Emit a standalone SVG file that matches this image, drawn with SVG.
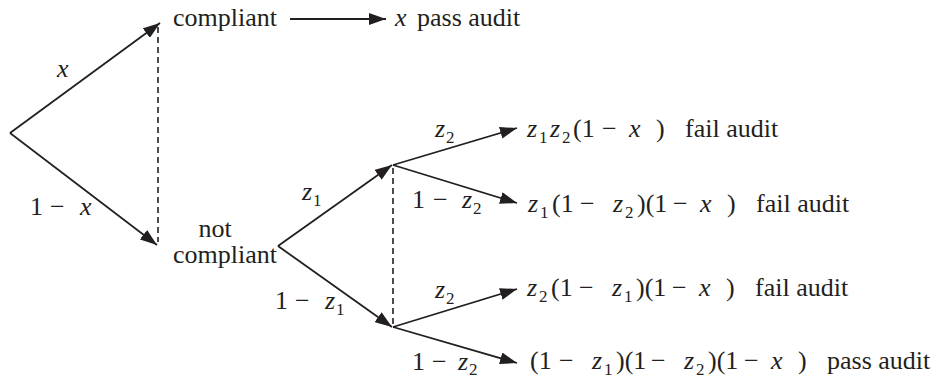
<svg xmlns="http://www.w3.org/2000/svg" width="939" height="378" viewBox="0 0 939 378">
<style>
  text { font-family: "Liberation Serif", "Times New Roman", serif; font-size: 26px; fill: #231f20; }
  .m { font-style: italic; }
  .u { font-style: normal; }
  .s { font-style: normal; font-size: 17px; }
  .edge { stroke: #231f20; stroke-width: 1.8; fill: none; marker-end: url(#ah); }
  .dash { stroke: #231f20; stroke-width: 1.6; fill: none; stroke-dasharray: 6 4; }
</style>
<defs>
  <marker id="ah" markerUnits="userSpaceOnUse" markerWidth="18" markerHeight="12" refX="17" refY="6" orient="auto">
    <path d="M0,0 L17,6 L0,12 Z" fill="#231f20"/>
  </marker>
</defs>
<rect width="939" height="378" fill="#ffffff"/>

<g id="connectors">
  <line class="edge" x1="10" y1="133" x2="160" y2="23"/>
  <line class="edge" x1="10" y1="133" x2="157" y2="245"/>
  <line class="dash" x1="158" y1="27" x2="158" y2="242"/>
  <line class="edge" x1="290" y1="19" x2="386" y2="19"/>
  <line class="edge" x1="278" y1="246" x2="392" y2="165"/>
  <line class="edge" x1="278" y1="246" x2="392" y2="327"/>
  <line class="edge" x1="393" y1="165" x2="517" y2="128"/>
  <line class="edge" x1="393" y1="165" x2="517" y2="203"/>
  <line class="edge" x1="393" y1="327" x2="517" y2="289"/>
  <line class="edge" x1="393" y1="327" x2="517" y2="363"/>
  <line class="dash" x1="393" y1="168" x2="393" y2="325"/>
</g>

<g id="edge-labels">
  <text class="m" x="57" y="77">x</text>
  <text y="215"><tspan x="30">1</tspan><tspan x="50">−</tspan><tspan class="m" x="80">x</tspan></text>
  <text class="m" y="200"><tspan x="302">z</tspan><tspan class="s" x="313" dy="6">1</tspan></text>
  <text y="309"><tspan x="275">1</tspan><tspan x="295">−</tspan><tspan class="m" x="325">z</tspan><tspan class="s" x="336" dy="6">1</tspan></text>
  <text class="m" y="137"><tspan x="435">z</tspan><tspan class="s" x="446" dy="6">2</tspan></text>
  <text y="208"><tspan x="412">1</tspan><tspan x="433">−</tspan><tspan class="m" x="462">z</tspan><tspan class="s" x="473" dy="6">2</tspan></text>
  <text class="m" y="298"><tspan x="435">z</tspan><tspan class="s" x="446" dy="6">2</tspan></text>
  <text y="370"><tspan x="412">1</tspan><tspan x="432">−</tspan><tspan class="m" x="458">z</tspan><tspan class="s" x="469" dy="5">2</tspan></text>
</g>

<g id="node-root"></g>

<g id="node-compliant">
  <text x="173" y="26">compliant</text>
</g>

<g id="node-pass-top">
  <text class="m" x="395" y="26">x</text>
  <text x="417" y="26">pass audit</text>
</g>

<g id="node-not-compliant">
  <text x="215" y="237" text-anchor="middle">not</text>
  <text x="173" y="263">compliant</text>
</g>

<g id="node-outcome-1">
  <text class="m" y="137"><tspan x="527">z</tspan><tspan class="s" x="539" dy="6">1</tspan><tspan x="550" dy="-6">z</tspan><tspan class="s" x="562" dy="6">2</tspan><tspan class="u" x="573" dy="-6">(1</tspan><tspan class="u" x="602">−</tspan><tspan x="629">x</tspan><tspan class="u" x="656">)</tspan></text>
  <text x="685" y="137">fail audit</text>
</g>

<g id="node-outcome-2">
  <text class="m" y="212"><tspan x="528">z</tspan><tspan class="s" x="540" dy="6">1</tspan><tspan class="u" x="552" dy="-6">(1</tspan><tspan class="u" x="580">−</tspan><tspan x="613">z</tspan><tspan class="s" x="625" dy="6">2</tspan><tspan class="u" x="637" dy="-6">)(1</tspan><tspan class="u" x="673">−</tspan><tspan x="700">x</tspan><tspan class="u" x="727">)</tspan></text>
  <text x="756" y="212">fail audit</text>
</g>

<g id="node-outcome-3">
  <text class="m" y="296"><tspan x="527">z</tspan><tspan class="s" x="539" dy="6">2</tspan><tspan class="u" x="551" dy="-6">(1</tspan><tspan class="u" x="579">−</tspan><tspan x="612">z</tspan><tspan class="s" x="624" dy="6">1</tspan><tspan class="u" x="636" dy="-6">)(1</tspan><tspan class="u" x="672">−</tspan><tspan x="699">x</tspan><tspan class="u" x="726">)</tspan></text>
  <text x="755" y="296">fail audit</text>
</g>

<g id="node-outcome-4">
  <text class="m" y="369"><tspan class="u" x="530">(1</tspan><tspan class="u" x="559">−</tspan><tspan x="592">z</tspan><tspan class="s" x="604" dy="6">1</tspan><tspan class="u" x="616" dy="-6">)(1</tspan><tspan class="u" x="651">−</tspan><tspan x="684">z</tspan><tspan class="s" x="696" dy="6">2</tspan><tspan class="u" x="708" dy="-6">)(1</tspan><tspan class="u" x="744">−</tspan><tspan x="771">x</tspan><tspan class="u" x="798">)</tspan></text>
  <text x="827" y="369">pass audit</text>
</g>
</svg>
